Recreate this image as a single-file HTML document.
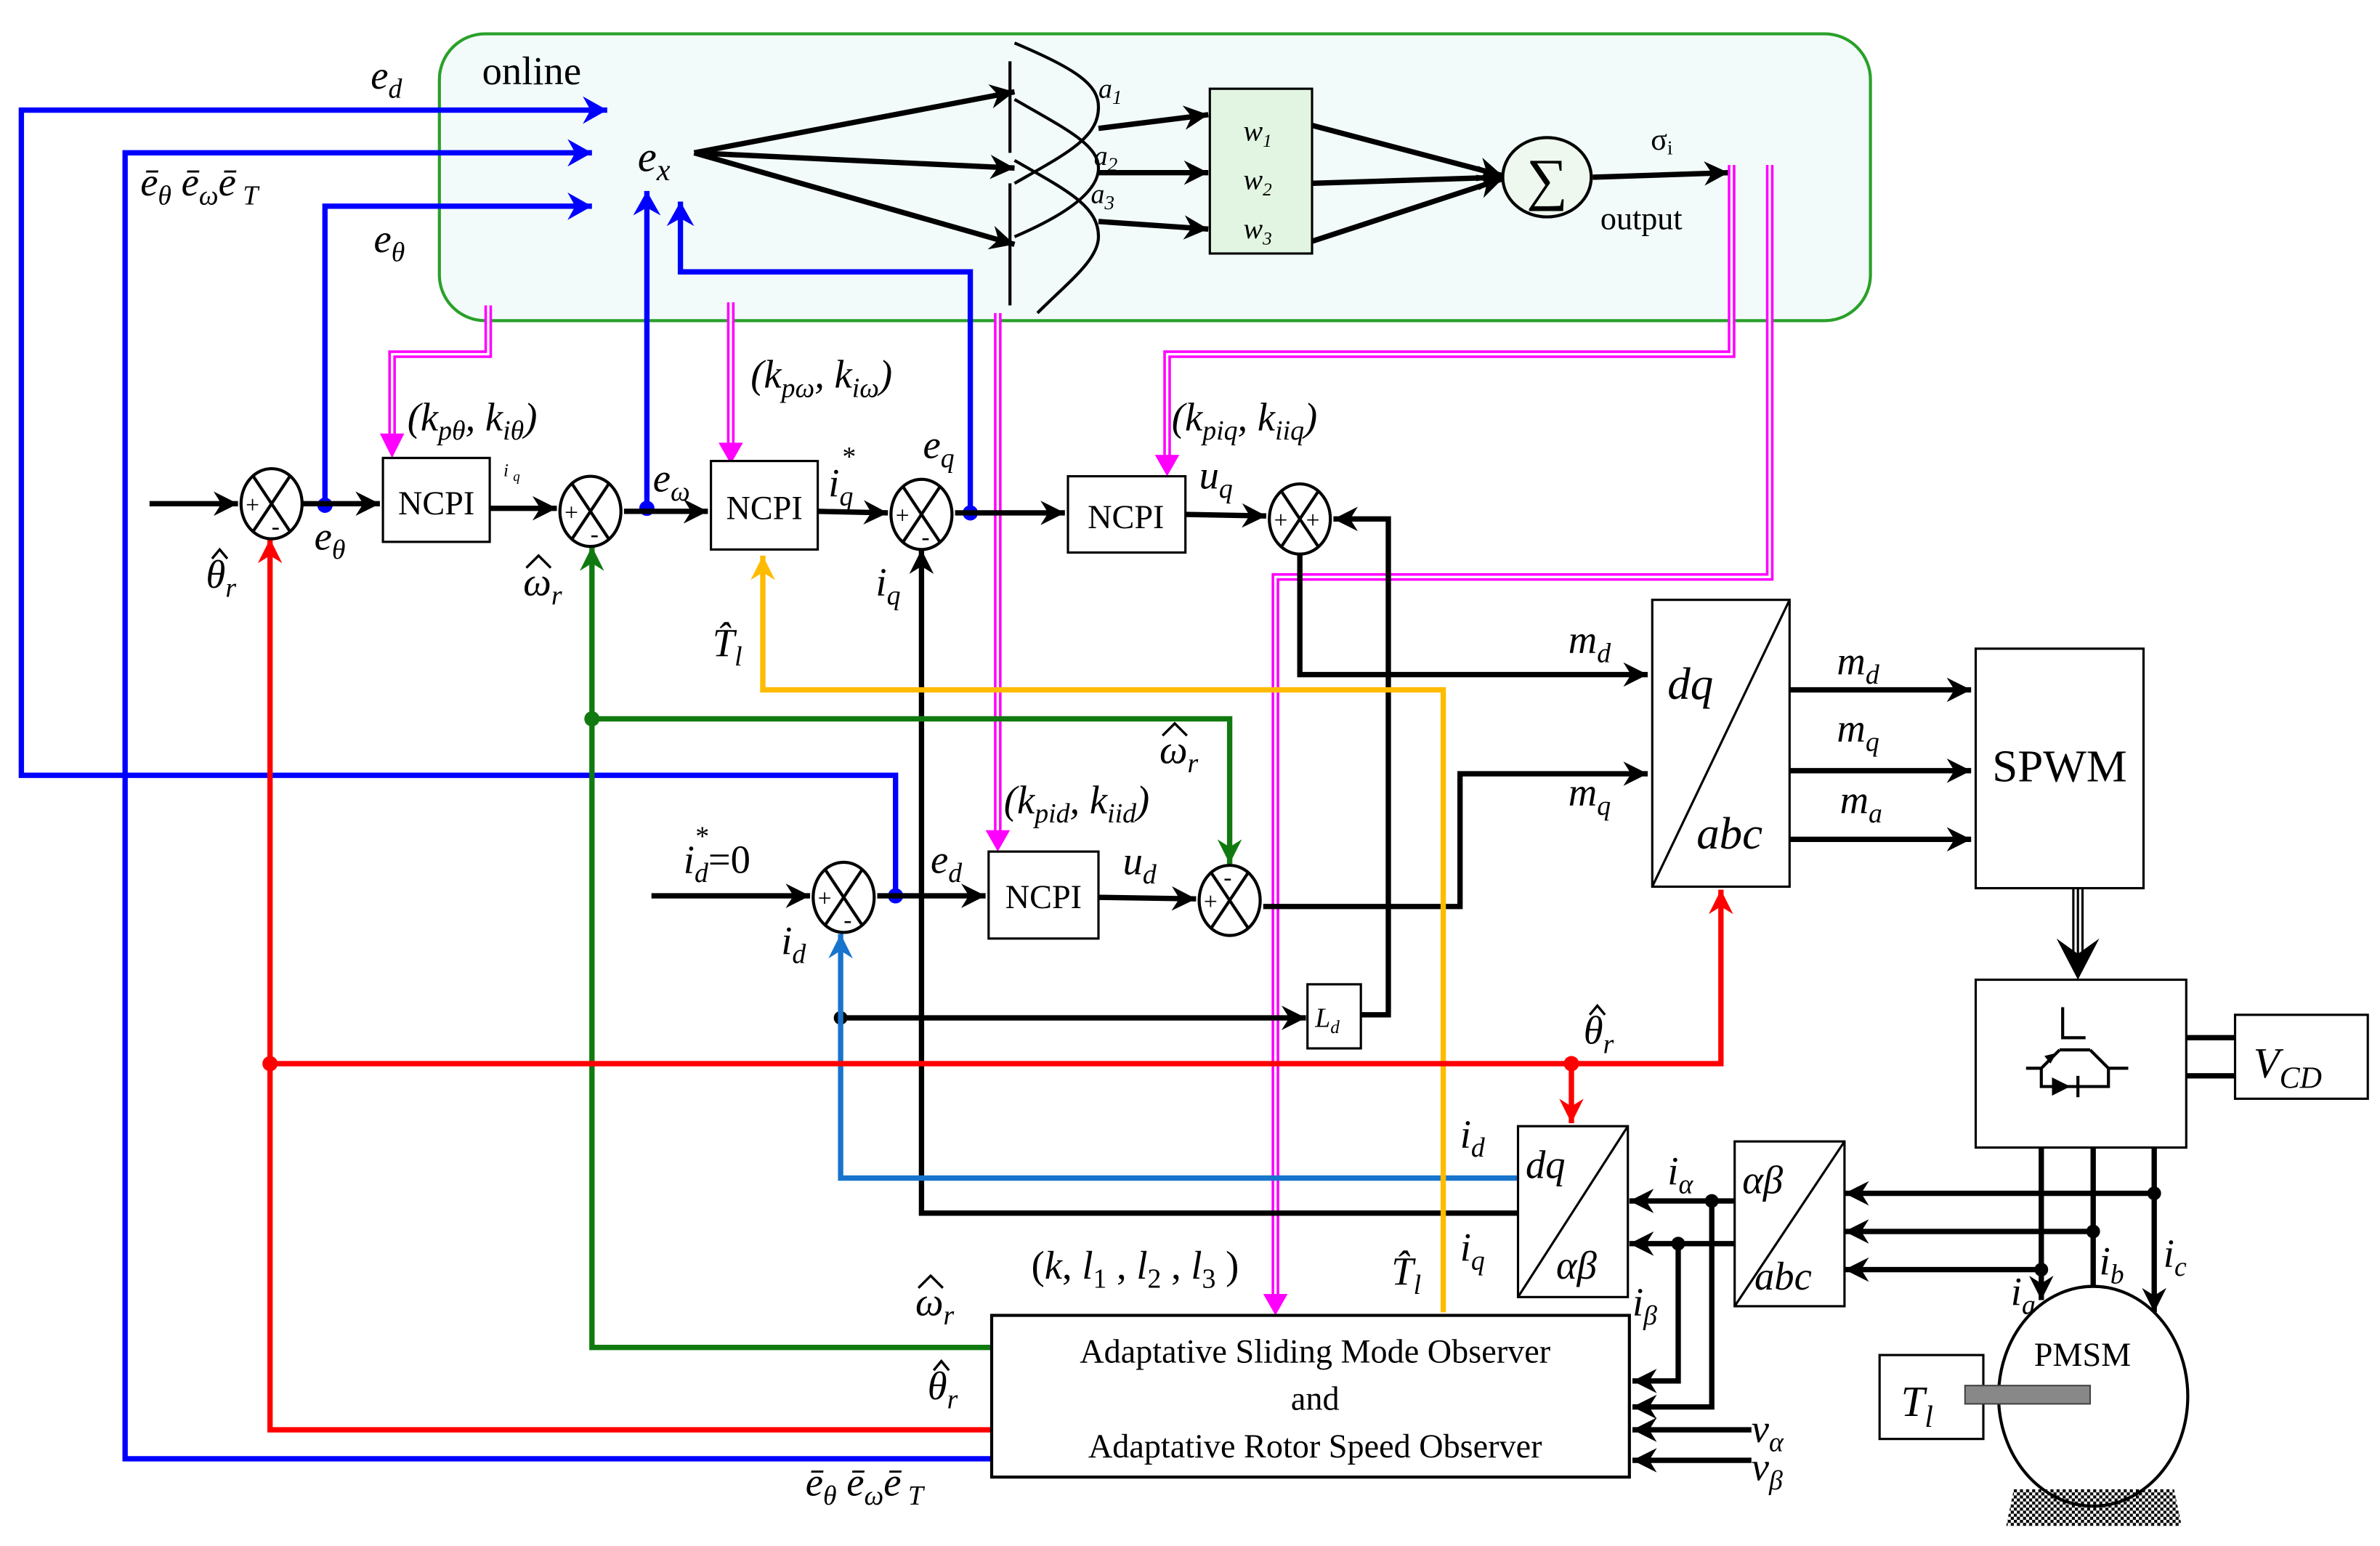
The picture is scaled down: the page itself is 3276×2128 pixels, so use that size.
<!DOCTYPE html>
<html><head><meta charset="utf-8"><style>
html,body{margin:0;padding:0;background:#fff}
svg{display:block}
text{font-family:"Liberation Serif",serif;}
.it{font-style:italic}
</style></head><body>
<svg width="3276" height="2128" viewBox="0 0 1560 1013" xmlns="http://www.w3.org/2000/svg">
<defs>
<marker id="ak" markerUnits="userSpaceOnUse" markerWidth="18" markerHeight="16" refX="16" refY="8" orient="auto"><path d="M0,0 L16,8 L0,16 L5,8 z" fill="#000"/></marker>
<marker id="ab" markerUnits="userSpaceOnUse" markerWidth="18" markerHeight="18" refX="16" refY="9" orient="auto"><path d="M0,0 L16,9 L0,18 L5,9 z" fill="#0000ff"/></marker>
<marker id="ar" markerUnits="userSpaceOnUse" markerWidth="18" markerHeight="16" refX="16" refY="8" orient="auto"><path d="M0,0 L16,8 L0,16 L5,8 z" fill="#ff0000"/></marker>
<marker id="ag" markerUnits="userSpaceOnUse" markerWidth="18" markerHeight="16" refX="16" refY="8" orient="auto"><path d="M0,0 L16,8 L0,16 L5,8 z" fill="#107a10"/></marker>
<marker id="ay" markerUnits="userSpaceOnUse" markerWidth="18" markerHeight="16" refX="16" refY="8" orient="auto"><path d="M0,0 L16,8 L0,16 L5,8 z" fill="#ffbb00"/></marker>
<marker id="al" markerUnits="userSpaceOnUse" markerWidth="18" markerHeight="16" refX="16" refY="8" orient="auto"><path d="M0,0 L16,8 L0,16 L5,8 z" fill="#1874cd"/></marker>
<pattern id="dots" width="4" height="4" patternUnits="userSpaceOnUse"><rect width="2" height="2" fill="#000"/><rect x="2" y="2" width="2" height="2" fill="#000"/></pattern>
</defs>

<!-- online box -->
<rect x="288" y="22" width="938" height="188" rx="30" fill="#f2fbfa" stroke="#2aa02a" stroke-width="2"/>
<text x="316" y="55" font-size="26">online</text>

<!-- fuzzy curves -->
<g fill="none" stroke="#000" stroke-width="2">
<path d="M665,28 C705,45 720,55 720,70 C720,90 700,100 665,120"/>
<path d="M665,65 C700,85 720,95 720,110 C720,125 700,140 665,155"/>
<path d="M665,105 C700,125 720,135 720,155 C720,170 700,185 680,205"/>
<path d="M662,40 L662,100 M662,120 L662,200"/>
</g>
<g stroke="#000" stroke-width="3.5" marker-end="url(#ak)">
<line x1="455" y1="100" x2="665" y2="60"/>
<line x1="455" y1="100" x2="665" y2="110"/>
<line x1="455" y1="100" x2="665" y2="160"/>
<line x1="720" y1="84" x2="792" y2="75"/>
<line x1="720" y1="113" x2="792" y2="113"/>
<line x1="720" y1="145" x2="792" y2="150"/>
<line x1="860" y1="82" x2="985" y2="115"/>
<line x1="860" y1="120" x2="985" y2="116"/>
<line x1="860" y1="158" x2="985" y2="117"/>
<line x1="1044" y1="116" x2="1133" y2="113"/>
</g>
<text x="720" y="64" font-size="18" class="it">a<tspan font-size="13" dy="4">1</tspan></text>
<text x="717" y="108" font-size="18" class="it">a<tspan font-size="13" dy="4">2</tspan></text>
<text x="715" y="133" font-size="18" class="it">a<tspan font-size="13" dy="4">3</tspan></text>
<rect x="793" y="58" width="67" height="108" fill="#e2f5e2" stroke="#000" stroke-width="1.5"/>
<text x="815" y="92" font-size="19" class="it">w<tspan font-size="12" dy="4">1</tspan></text>
<text x="815" y="124" font-size="19" class="it">w<tspan font-size="12" dy="4">2</tspan></text>
<text x="815" y="156" font-size="19" class="it">w<tspan font-size="12" dy="4">3</tspan></text>
<ellipse cx="1014" cy="116" rx="29" ry="26" fill="#eef8ee" stroke="#000" stroke-width="2"/>
<text x="1014" y="130" font-size="38" text-anchor="middle">∑</text>
<text x="1082" y="98" font-size="20">σ<tspan font-size="13" dy="3">i</tspan></text>
<text x="1049" y="150" font-size="21">output</text>

<!-- blue lines -->
<g fill="none" stroke="#0000ff" stroke-width="3.5">
<path d="M587,587 L587,508 L14,508 L14,72 L398,72" marker-end="url(#ab)"/>
<path d="M650,956 L82,956 L82,100 L388,100" marker-end="url(#ab)"/>
<path d="M213,331 L213,135 L388,135" marker-end="url(#ab)"/>
<path d="M424,333 L424,125" marker-end="url(#ab)"/>
<path d="M636,336 L636,178 L446,178 L446,132" marker-end="url(#ab)"/>
</g>
<g fill="#0000ff"><circle cx="213" cy="331" r="5"/><circle cx="424" cy="333" r="5"/><circle cx="636" cy="336" r="5"/><circle cx="587" cy="587" r="5"/></g>
<text x="243" y="58" font-size="26" class="it">e<tspan font-size="18" dy="6">d</tspan></text>
<text x="92" y="128" font-size="26" class="it">ē<tspan font-size="18" dy="6">θ</tspan><tspan dy="-6"> ē</tspan><tspan font-size="18" dy="6">ω</tspan><tspan dy="-6">ē</tspan><tspan font-size="18" dy="6"> T</tspan></text>
<text x="245" y="165" font-size="26" class="it">e<tspan font-size="18" dy="6">θ</tspan></text>
<text x="418" y="112" font-size="28" class="it">e<tspan font-size="20" dy="6">x</tspan></text>

<!-- magenta double lines -->
<g fill="none">
<g stroke="#ff00ff" stroke-width="5">
<path d="M320,200 L320,232 L257,232 L257,290"/>
<path d="M479,198 L479,297"/>
<path d="M654,205 L654,552"/>
<path d="M1135,108 L1135,232 L765,232 L765,307"/>
<path d="M1160,108 L1160,378 L836,378 L836,857"/>
</g>
<g stroke="#fff" stroke-width="1.6">
<path d="M320,200 L320,232 L257,232 L257,290"/>
<path d="M479,198 L479,297"/>
<path d="M654,205 L654,552"/>
<path d="M1135,108 L1135,232 L765,232 L765,307"/>
<path d="M1160,108 L1160,378 L836,378 L836,857"/>
</g>
</g>
<g fill="#ff00ff">
<path d="M249,284 L265,284 L257,300 z"/><path d="M471,290 L487,290 L479,304 z"/>
<path d="M646,544 L662,544 L654,558 z"/><path d="M757,298 L773,298 L765,312 z"/>
<path d="M828,848 L844,848 L836,862 z"/>
</g>

<!-- labels for gains -->
<text x="267" y="282" font-size="26" class="it">(k<tspan font-size="18" dy="6">pθ</tspan><tspan dy="-6">, k</tspan><tspan font-size="18" dy="6">iθ</tspan><tspan dy="-6">)</tspan></text>
<text x="492" y="254" font-size="26" class="it">(k<tspan font-size="18" dy="6">pω</tspan><tspan dy="-6">, k</tspan><tspan font-size="18" dy="6">iω</tspan><tspan dy="-6">)</tspan></text>
<text x="768" y="282" font-size="26" class="it">(k<tspan font-size="18" dy="6">piq</tspan><tspan dy="-6">, k</tspan><tspan font-size="18" dy="6">iiq</tspan><tspan dy="-6">)</tspan></text>
<text x="658" y="533" font-size="26" class="it">(k<tspan font-size="18" dy="6">pid</tspan><tspan dy="-6">, k</tspan><tspan font-size="18" dy="6">iid</tspan><tspan dy="-6">)</tspan></text>

<!-- black signal lines -->
<g fill="none" stroke="#000" stroke-width="3.5">
<path d="M98,330 L156,330" marker-end="url(#ak)"/>
<path d="M198,330 L249,330" marker-end="url(#ak)"/>
<path d="M321,333 L365,333" marker-end="url(#ak)"/>
<path d="M409,335 L464,335" marker-end="url(#ak)"/>
<path d="M536,335 L582,336" marker-end="url(#ak)"/>
<path d="M626,336 L698,336" marker-end="url(#ak)"/>
<path d="M777,337 L830,338" marker-end="url(#ak)"/>
<path d="M892,665 L910,665 L910,340 L874,340" marker-end="url(#ak)"/>
<path d="M852,362 L852,442 L1080,442" marker-end="url(#ak)"/>
<path d="M828,594 L957,594 L957,507 L1080,507" marker-end="url(#ak)"/>
<path d="M427,587 L531,587" marker-end="url(#ak)"/>
<path d="M575,587 L646,587" marker-end="url(#ak)"/>
<path d="M720,588 L784,589" marker-end="url(#ak)"/>
<path d="M995,795 L604,795 L604,360" marker-end="url(#ak)"/>
<path d="M551,667 L856,667" marker-end="url(#ak)"/>
<path d="M1173,452 L1292,452" marker-end="url(#ak)"/>
<path d="M1173,505 L1292,505" marker-end="url(#ak)"/>
<path d="M1173,550 L1292,550" marker-end="url(#ak)"/>
<path d="M1412,752 L1412,860" marker-end="url(#ak)"/>
<path d="M1372,752 L1372,860" marker-end="url(#ak)"/>
<path d="M1338,752 L1338,852" marker-end="url(#ak)"/>
<path d="M1412,782 L1209,782" marker-end="url(#ak)"/>
<path d="M1372,807 L1209,807" marker-end="url(#ak)"/>
<path d="M1338,832 L1209,832" marker-end="url(#ak)"/>
<path d="M1137,787 L1068,787" marker-end="url(#ak)"/>
<path d="M1137,815 L1068,815" marker-end="url(#ak)"/>
<path d="M1122,787 L1122,922 L1070,922" marker-end="url(#ak)"/>
<path d="M1100,815 L1100,905 L1070,905" marker-end="url(#ak)"/>
<path d="M1148,937 L1070,937" marker-end="url(#ak)"/>
<path d="M1148,957 L1070,957" marker-end="url(#ak)"/>
<path d="M1433,680 L1465,680 M1433,705 L1465,705"/>
</g>
<g stroke="#000" stroke-width="1.5"><line x1="1359" y1="582" x2="1359" y2="630"/><line x1="1362" y1="582" x2="1362" y2="630"/><line x1="1365" y1="582" x2="1365" y2="630"/></g>
<path d="M1348,615 L1362,642 L1376,615 L1362,625 z" fill="#000"/>
<g fill="#000"><circle cx="551" cy="667" r="4.5"/><circle cx="1412" cy="782" r="4.5"/><circle cx="1372" cy="807" r="4.5"/><circle cx="1338" cy="832" r="4.5"/><circle cx="1122" cy="787" r="4.5"/><circle cx="1100" cy="815" r="4.5"/></g>

<!-- blue id -->
<path d="M995,772 L551,772 L551,612" fill="none" stroke="#1874cd" stroke-width="3.5" marker-end="url(#al)"/>
<!-- yellow -->
<path d="M946,860 L946,452 L500,452 L500,364" fill="none" stroke="#ffbb00" stroke-width="3.5" marker-end="url(#ay)"/>
<!-- green -->
<path d="M650,883 L388,883 L388,358" fill="none" stroke="#107a10" stroke-width="3.5" marker-end="url(#ag)"/>
<path d="M388,471 L806,471 L806,566" fill="none" stroke="#107a10" stroke-width="3.5" marker-end="url(#ag)"/>
<circle cx="388" cy="471" r="5" fill="#107a10"/>
<!-- red -->
<path d="M650,937 L177,937 L177,353" fill="none" stroke="#ff0000" stroke-width="3.5" marker-end="url(#ar)"/>
<path d="M177,697 L1128,697 L1128,583" fill="none" stroke="#ff0000" stroke-width="3.5" marker-end="url(#ar)"/>
<path d="M1030,697 L1030,736" fill="none" stroke="#ff0000" stroke-width="3.5" marker-end="url(#ar)"/>
<circle cx="177" cy="697" r="5" fill="#ff0000"/><circle cx="1030" cy="697" r="5" fill="#ff0000"/>

<!-- summing junctions -->
<g fill="#fff" stroke="#000" stroke-width="2">
<ellipse cx="178" cy="330" rx="20" ry="23"/><ellipse cx="387" cy="335" rx="20" ry="23"/>
<ellipse cx="604" cy="337" rx="20" ry="23"/><ellipse cx="852" cy="340" rx="20" ry="23"/>
<ellipse cx="553" cy="588" rx="20" ry="23"/><ellipse cx="806" cy="590" rx="20" ry="23"/>
</g>
<g stroke="#000" stroke-width="2">
<path d="M166,312 L190,348 M190,312 L166,348"/>
<path d="M375,317 L399,353 M399,317 L375,353"/>
<path d="M592,319 L616,355 M616,319 L592,355"/>
<path d="M840,322 L864,358 M864,322 L840,358"/>
<path d="M541,570 L565,606 M565,570 L541,606"/>
<path d="M794,572 L818,608 M818,572 L794,608"/>
</g>
<g font-size="16" font-family="Liberation Sans,sans-serif">
<text x="161" y="336">+</text><text x="178" y="350">-</text>
<text x="370" y="341">+</text><text x="387" y="355">-</text>
<text x="587" y="343">+</text><text x="604" y="357">-</text>
<text x="835" y="346">+</text><text x="856" y="346">+</text>
<text x="536" y="594">+</text><text x="553" y="608">-</text>
<text x="789" y="596">+</text><text x="802" y="580">-</text>
</g>

<!-- NCPI boxes -->
<g fill="#fff" stroke="#000" stroke-width="1.5">
<rect x="251" y="300" width="70" height="55"/><rect x="466" y="302" width="70" height="58"/>
<rect x="700" y="312" width="77" height="50"/><rect x="648" y="558" width="72" height="57"/>
<rect x="857" y="645" width="35" height="42"/>
</g>
<g font-size="22" text-anchor="middle">
<text x="286" y="337">NCPI</text><text x="501" y="340">NCPI</text>
<text x="738" y="346">NCPI</text><text x="684" y="595">NCPI</text>
</g>
<text x="862" y="673" font-size="18" class="it">L<tspan font-size="12" dy="4">d</tspan></text>

<!-- signal labels -->
<g class="it" font-size="26">
<text x="206" y="360">e<tspan font-size="18" dy="6">θ</tspan></text>
<text x="135" y="385">θ<tspan font-size="18" dy="6">r</tspan></text>
<text x="330" y="312" font-size="12">i <tspan font-size="9" dy="3">q</tspan></text>
<text x="428" y="322">e<tspan font-size="18" dy="6">ω</tspan></text>
<text x="343" y="390">ω<tspan font-size="18" dy="6">r</tspan></text>
<text x="543" y="325">i<tspan font-size="18" dy="6">q</tspan><tspan font-size="18" dx="-8" dy="-26">*</tspan></text>
<text x="605" y="300">e<tspan font-size="18" dy="6">q</tspan></text>
<text x="574" y="390">i<tspan font-size="18" dy="6">q</tspan></text>
<text x="467" y="430">T̂<tspan font-size="18" dy="6">l</tspan></text>
<text x="786" y="320">u<tspan font-size="18" dy="6">q</tspan></text>
<text x="1028" y="428">m<tspan font-size="18" dy="6">d</tspan></text>
<text x="1028" y="528">m<tspan font-size="18" dy="6">q</tspan></text>
<text x="1204" y="442">m<tspan font-size="18" dy="6">d</tspan></text>
<text x="1204" y="486">m<tspan font-size="18" dy="6">q</tspan></text>
<text x="1206" y="533">m<tspan font-size="18" dy="6">a</tspan></text>
<text x="760" y="500">ω<tspan font-size="18" dy="6">r</tspan></text>
<text x="448" y="572">i<tspan font-size="18" dy="6">d</tspan><tspan font-style="normal" dy="-6">=0</tspan><tspan font-size="18" x="455" dy="-18">*</tspan></text>
<text x="610" y="572">e<tspan font-size="18" dy="6">d</tspan></text>
<text x="512" y="625">i<tspan font-size="18" dy="6">d</tspan></text>
<text x="736" y="573">u<tspan font-size="18" dy="6">d</tspan></text>
<text x="1038" y="684">θ<tspan font-size="18" dy="6">r</tspan></text>
<text x="957" y="752">i<tspan font-size="18" dy="6">d</tspan></text>
<text x="957" y="826">i<tspan font-size="18" dy="6">q</tspan></text>
<text x="1093" y="776">i<tspan font-size="18" dy="6">α</tspan></text>
<text x="1070" y="862">i<tspan font-size="18" dy="6">β</tspan></text>
<text x="912" y="842">T̂<tspan font-size="18" dy="6">l</tspan></text>
<text x="600" y="862">ω<tspan font-size="18" dy="6">r</tspan></text>
<text x="608" y="917">θ<tspan font-size="18" dy="6">r</tspan></text>
<text x="528" y="980">ē<tspan font-size="18" dy="6">θ</tspan><tspan dy="-6"> ē</tspan><tspan font-size="18" dy="6">ω</tspan><tspan dy="-6">ē</tspan><tspan font-size="18" dy="6"> T</tspan></text>
<text x="676" y="838" font-style="normal">(<tspan font-style="italic">k</tspan>, <tspan font-style="italic">l</tspan><tspan font-size="18" dy="6">1</tspan><tspan dy="-6"> , </tspan><tspan font-style="italic">l</tspan><tspan font-size="18" dy="6">2</tspan><tspan dy="-6"> , </tspan><tspan font-style="italic">l</tspan><tspan font-size="18" dy="6">3</tspan><tspan dy="-6"> )</tspan></text>
<text x="1148" y="945">v<tspan font-size="18" dy="6">α</tspan></text>
<text x="1148" y="970">v<tspan font-size="18" dy="6">β</tspan></text>
<text x="1318" y="855">i<tspan font-size="18" dy="6">a</tspan></text>
<text x="1376" y="835">i<tspan font-size="18" dy="6">b</tspan></text>
<text x="1418" y="830">i<tspan font-size="18" dy="6">c</tspan></text>
</g>
<!-- hats -->
<g fill="none" stroke="#000" stroke-width="1.6">
<path d="M139,366 L144,360 L149,366"/>
<path d="M345,372 L353,364 L361,372"/>
<path d="M762,482 L770,474 L778,482"/>
<path d="M1042,665 L1047,659 L1052,665"/>
<path d="M602,844 L610,836 L618,844"/>
<path d="M612,898 L617,892 L622,898"/>
</g>

<!-- dq/abc -->
<rect x="1083" y="393" width="90" height="188" fill="#fff" stroke="#000" stroke-width="1.5"/>
<line x1="1083" y1="581" x2="1173" y2="393" stroke="#000" stroke-width="1.5"/>
<text x="1093" y="458" font-size="30" class="it">dq</text>
<text x="1112" y="556" font-size="30" class="it">abc</text>

<!-- SPWM -->
<rect x="1295" y="425" width="110" height="157" fill="#fff" stroke="#000" stroke-width="1.5"/>
<text x="1350" y="512" font-size="30" text-anchor="middle">SPWM</text>

<!-- inverter -->
<rect x="1295" y="642" width="138" height="110" fill="#fff" stroke="#000" stroke-width="1.5"/>
<g fill="none" stroke="#000" stroke-width="2">
<path d="M1352,660 L1352,680 L1367,680 M1350,688 L1370,688 M1350,688 L1338,700 M1370,688 L1382,700 M1328,700 L1338,700 L1338,712 L1382,712 L1382,700 L1395,700 M1362,705 L1362,719"/>
</g>
<path d="M1345,706 L1357,712 L1345,718 z M1340,692 L1348,690 L1344,697 z" fill="#000"/>
<rect x="1465" y="665" width="87" height="55" fill="#fff" stroke="#000" stroke-width="1.5"/>
<text x="1477" y="706" font-size="28" class="it">V<tspan font-size="20" dy="7">CD</tspan></text>

<!-- transforms -->
<rect x="995" y="738" width="72" height="112" fill="#fff" stroke="#000" stroke-width="1.5"/>
<line x1="995" y1="850" x2="1067" y2="738" stroke="#000" stroke-width="1.5"/>
<text x="1000" y="772" font-size="26" class="it">dq</text>
<text x="1020" y="838" font-size="26" class="it">αβ</text>
<rect x="1137" y="748" width="72" height="108" fill="#fff" stroke="#000" stroke-width="1.5"/>
<line x1="1137" y1="856" x2="1209" y2="748" stroke="#000" stroke-width="1.5"/>
<text x="1142" y="782" font-size="26" class="it">αβ</text>
<text x="1150" y="845" font-size="26" class="it">abc</text>

<!-- observer -->
<rect x="650" y="862" width="418" height="106" fill="#fff" stroke="#000" stroke-width="2"/>
<g font-size="22" text-anchor="middle">
<text x="862" y="893">Adaptative Sliding Mode Observer</text>
<text x="862" y="924">and</text>
<text x="862" y="955">Adaptative Rotor Speed Observer</text>
</g>

<!-- PMSM -->
<ellipse cx="1372" cy="915" rx="62" ry="72" fill="#fff" stroke="#000" stroke-width="2"/>
<text x="1365" y="895" font-size="22" text-anchor="middle">PMSM</text>
<rect x="1232" y="888" width="68" height="55" fill="#fff" stroke="#000" stroke-width="1.5"/>
<text x="1246" y="928" font-size="28" class="it">T<tspan font-size="20" dy="7">l</tspan></text>
<rect x="1288" y="908" width="82" height="12" fill="#888" stroke="#444" stroke-width="1"/>
<path d="M1320,976 L1425,976 L1430,1000 L1315,1000 z" fill="url(#dots)"/>
</svg>
</body></html>
